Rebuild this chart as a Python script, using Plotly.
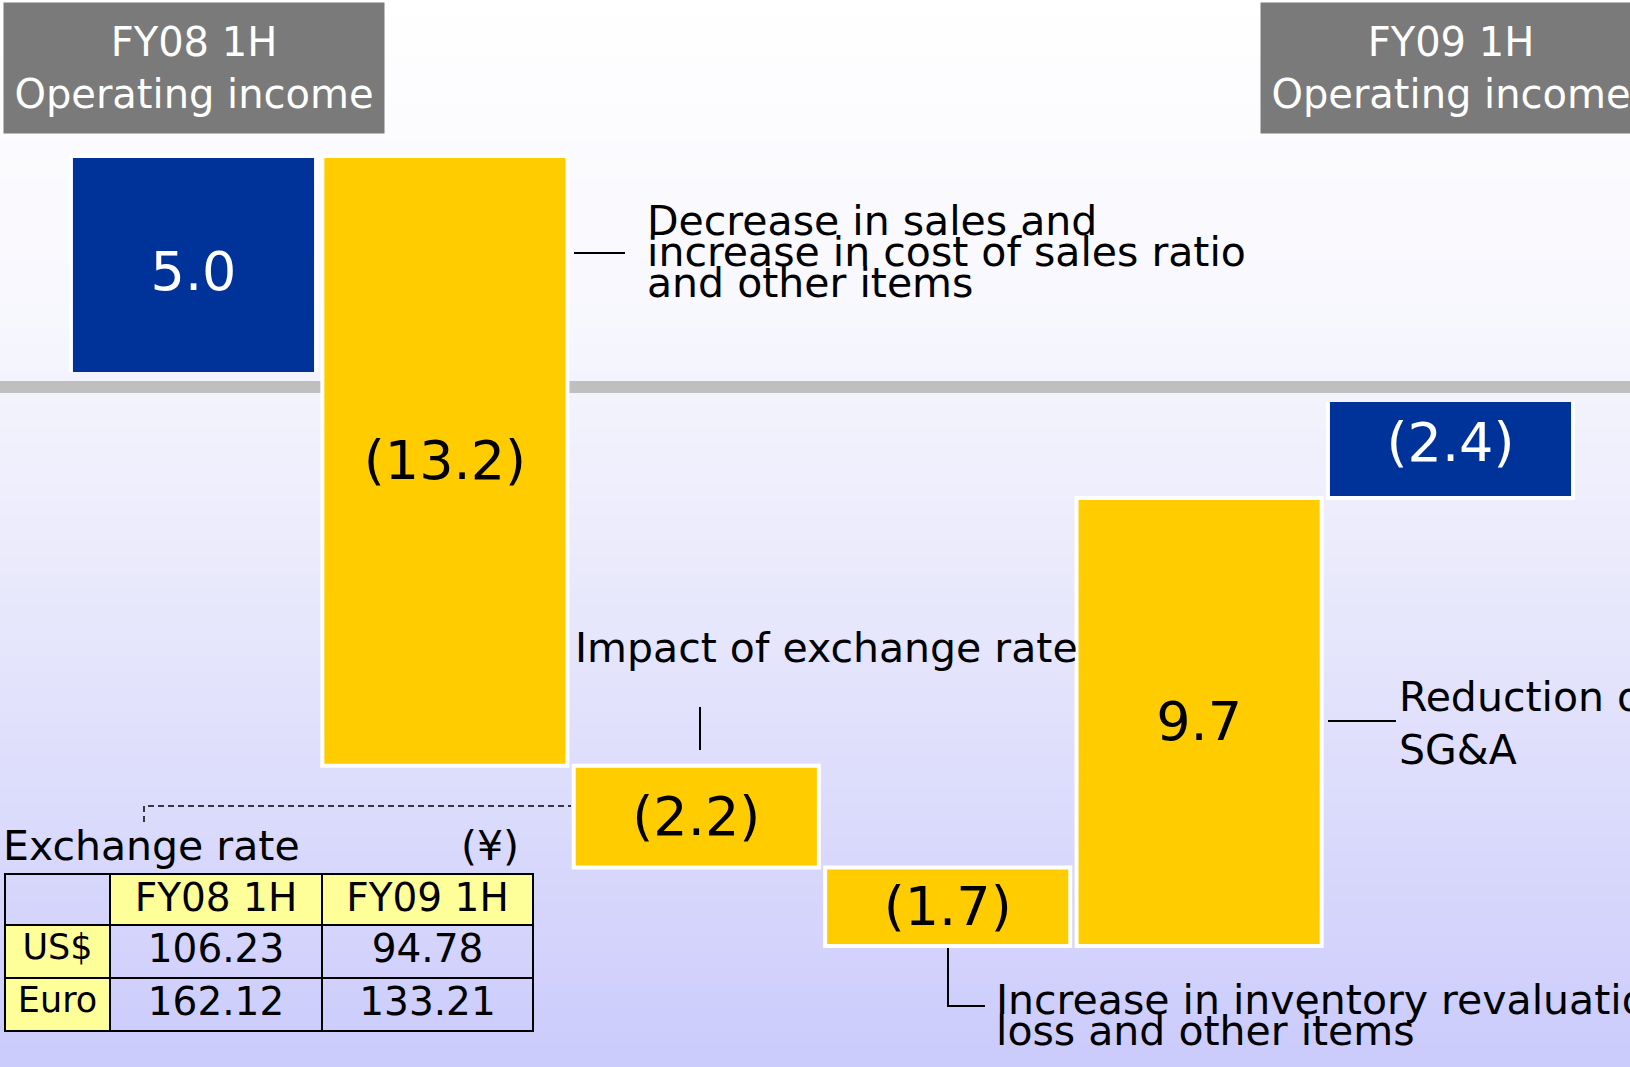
import numpy as np
import plotly.graph_objects as go

# ---------------- data ----------------
categories = ["FY08 1H Operating income",
              "Decrease in sales and increase in cost of sales ratio and other items",
              "Impact of exchange rate",
              "Increase in inventory revaluation loss and other items",
              "Reduction of SG&A",
              "FY09 1H Operating income"]
values = [5.0, -13.2, -2.2, -1.7, 9.7, -2.4]
measures = ["absolute", "relative", "relative", "relative", "relative", "total"]

rate_header = ["", "FY08 1H", "FY09 1H"]
rate_currency = ["US$", "Euro"]
rate_fy08 = ["106.23", "162.12"]
rate_fy09 = ["94.78", "133.21"]

# ---------------- layout constants ----------------
W, H = 1630, 1067
X0_PX, DX_PX = 193.5, 251.4      # pixel centre of first bar, bar spacing
ZERO_PX, KY = 387.0, 46.2        # pixel of zero line, pixels per unit
x_range = [-X0_PX / DX_PX, (W - X0_PX) / DX_PX]
y_range = [-(H - ZERO_PX) / KY, ZERO_PX / KY]

BLUE = "#003399"
YELLOW = "#ffcc00"
FONT = "DejaVu Sans"
TXT = 41

# waterfall bases / heights from the data
bases, heights = [], []
running = 0.0
for v, m in zip(values, measures):
    if m == "absolute":
        bases.append(0.0); heights.append(v); running = v
    elif m == "relative":
        bases.append(running); heights.append(v); running += v
    else:
        bases.append(0.0); heights.append(running)
labels = [f"({abs(h):.1f})" if h < 0 else f"{h:.1f}" for h in heights]
pos = np.arange(len(values))
is_total = np.array([m != "relative" for m in measures])

fig = go.Figure()

# background colour helper (vertical gradient)
stop_t = [0.0, 0.30, 0.55, 0.78, 1.0]
stop_rg = [255, 247, 233, 218, 203]
stop_b = [255, 254, 252, 252, 252]


def bg_at(t):
    v = np.interp(t, stop_t, stop_rg)
    b = np.interp(t, stop_t, stop_b)
    return f"rgb({v:.0f},{v:.0f},{b:.0f})"


shapes = []
n_strips = 130
for i in range(n_strips):
    t0 = i / n_strips
    t1 = (i + 1) / n_strips
    shapes.append(dict(type="rect", xref="paper", yref="paper",
                       x0=0, x1=1, y0=1 - t1, y1=1 - t0 + 0.001,
                       fillcolor=bg_at((t0 + t1) / 2), line=dict(width=0),
                       layer="below"))

# totals (blue) in subplot 1
fig.add_trace(go.Bar(
    x=pos[is_total], y=np.array(heights)[is_total], base=np.array(bases)[is_total],
    width=0.975, marker=dict(color=BLUE, line=dict(color="white", width=4)),
    text=np.array(labels)[is_total], textposition="inside", insidetextanchor="middle",
    textangle=0, constraintext="none",
    textfont=dict(family=FONT, size=54, color="white"),
    hovertext=np.array(categories)[is_total], hoverinfo="text",
    xaxis="x", yaxis="y", showlegend=False))

# zero line band + grey line (above blue bars)
fig.add_trace(go.Scatter(x=x_range, y=[0, 0], mode="lines",
                         line=dict(color=bg_at(ZERO_PX / H), width=30),
                         hoverinfo="skip", showlegend=False, xaxis="x", yaxis="y"))
fig.add_trace(go.Scatter(x=x_range, y=[0, 0], mode="lines",
                         line=dict(color="#bfbfbf", width=12),
                         hoverinfo="skip", showlegend=False, xaxis="x", yaxis="y"))

# changes (yellow) in overlaid subplot 2
fig.add_trace(go.Bar(
    x=pos[~is_total], y=np.array(heights)[~is_total], base=np.array(bases)[~is_total],
    width=0.975, marker=dict(color=YELLOW, line=dict(color="white", width=4)),
    text=np.array(labels)[~is_total], textposition="inside", insidetextanchor="middle",
    textangle=0, constraintext="none",
    textfont=dict(family=FONT, size=54, color="black"),
    hovertext=np.array(categories)[~is_total], hoverinfo="text",
    xaxis="x2", yaxis="y2", showlegend=False))

# exchange-rate table
fig.add_trace(go.Table(
    domain=dict(x=[5 / W, 533 / W], y=[1 - 1034 / H, 1 - 874 / H]),
    columnwidth=[105, 212, 211],
    header=dict(values=rate_header,
                fill=dict(color=["rgba(0,0,0,0)", "#ffff99", "#ffff99"]),
                line=dict(color="black", width=2.5),
                font=dict(family=FONT, size=39, color="black"),
                align="center", height=51),
    cells=dict(values=[rate_currency, rate_fy08, rate_fy09],
               fill=dict(color=[["#ffff99", "#ffff99"], ["rgba(0,0,0,0)"] * 2, ["rgba(0,0,0,0)"] * 2]),
               line=dict(color="black", width=2.5),
               font=dict(family=FONT, size=[35, 39, 39], color="black"),
               align="center", height=53)))


def px(xp):
    return xp / W


def py(yp):
    return 1 - yp / H


annotations = []
# header boxes
for idx, txt in [(0, "FY08 1H<br>Operating income"), (5, "FY09 1H<br>Operating income")]:
    annotations.append(dict(x=idx, xref="x", y=py(2), yref="paper", xanchor="center", yanchor="top",
                            text=txt, showarrow=False, width=380, height=130, borderpad=0,
                            bgcolor="#7a7a7a", font=dict(family=FONT, size=40, color="white"),
                            align="center", valign="middle"))


def note(text, xp, yp, size=TXT, anchor="left"):
    annotations.append(dict(x=px(xp), y=py(yp), xref="paper", yref="paper", text=text,
                            showarrow=False, xanchor=anchor, yanchor="middle",
                            font=dict(family=FONT, size=size, color="black")))


note("Decrease in sales and", 645, 221)
note("increase in cost of sales ratio", 645, 252)
note("and other items", 645, 283)
note("Impact of exchange rate", 573, 648)
note("Reduction of", 1397, 697)
note("SG&A", 1397, 750)
note("Increase in inventory revaluation", 994, 1000)
note("loss and other items", 994, 1031)
note("Exchange rate", 1, 846)
note("(¥)", 521, 846, anchor="right")

# leader lines
line_style = dict(color="black", width=2)
shapes.append(dict(type="line", xref="paper", yref="paper", x0=px(574), x1=px(625),
                   y0=py(253), y1=py(253), line=line_style, layer="above"))
shapes.append(dict(type="line", xref="paper", yref="paper", x0=px(700), x1=px(700),
                   y0=py(707), y1=py(750), line=line_style, layer="above"))
shapes.append(dict(type="path", xref="paper", yref="paper",
                   path=f"M {px(948)} {py(948)} L {px(948)} {py(1006)} L {px(985)} {py(1006)}",
                   line=line_style, layer="above"))
shapes.append(dict(type="line", xref="paper", yref="paper", x0=px(1328), x1=px(1396),
                   y0=py(721), y1=py(721), line=line_style, layer="above"))
shapes.append(dict(type="path", xref="paper", yref="paper",
                   path=f"M {px(144)} {py(822)} L {px(144)} {py(806)} L {px(571)} {py(806)}",
                   line=dict(color="black", width=1.5, dash="6px,4px"), layer="above"))

axis_common = dict(visible=False, showgrid=False, zeroline=False, fixedrange=True)
fig.update_layout(
    width=W, height=H,
    margin=dict(l=0, r=0, t=0, b=0),
    paper_bgcolor="white", plot_bgcolor="rgba(0,0,0,0)",
    barmode="overlay",
    xaxis=dict(range=x_range, domain=[0, 1], **axis_common),
    yaxis=dict(range=y_range, domain=[0, 1], **axis_common),
    xaxis2=dict(range=x_range, overlaying="x", **axis_common),
    yaxis2=dict(range=y_range, overlaying="y", **axis_common),
    shapes=shapes, annotations=annotations,
    showlegend=False,
)

fig.write_html("out.html", config={"displayModeBar": False},
               post_script="document.body.style.margin='0';document.body.style.overflow='hidden';")
